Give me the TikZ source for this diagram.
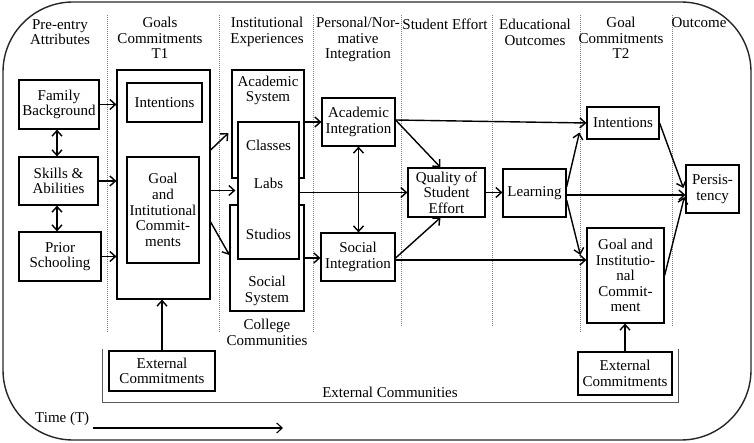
\documentclass[tikz,border=0pt]{standalone}
\usepackage{fontspec}
\setmainfont{Liberation Serif}
\usetikzlibrary{arrows.meta,calc}
\begin{document}
\begin{tikzpicture}[x=1pt,y=-1pt,
  every node/.style={font=\fontsize{15}{15.6}\selectfont, align=center, inner sep=1pt},
  box/.style={draw, line width=1.2pt, fill=white},
  arr/.style={line width=1.4pt, -{Straight Barb[length=5.5pt,width=10pt]}},
  darr/.style={line width=1.4pt, {Straight Barb[length=5.5pt,width=10pt]}-{Straight Barb[length=5.5pt,width=10pt]}},
  sep/.style={gray, line width=0.8pt, dash pattern=on 0.7pt off 1.3pt},
  hdr/.style={anchor=north, inner sep=0pt}]
\useasboundingbox (0,0) rectangle (754,443);
% outer frame
\draw[line width=1.4pt, black!85, rounded corners=70pt] (3,2) rectangle (751,440);

% column separators
\foreach \x/\yb in {107/332,219/332,313/332,401/326,492/326,580/332,672/326}
  \draw[sep] (\x,15) -- (\x,\yb);

% headers
\node[hdr] (h1) at (60,19) {Pre-entry\\Attributes};
\node[hdr] (h2) at (160,17) {Goals\\Commitments\\T1};
\node[hdr] (h3) at (267,17) {Institutional\\Experiences};
\node[hdr] (h4) at (358,17) {Personal/Nor-\\mative\\Integration};
\node[hdr] (h5) at (445,19) {Student Effort};
\node[hdr] (h6) at (535,19) {Educational\\Outcomes};
\node[hdr] (h7) at (621,17) {Goal\\Commitments\\T2};
\node[hdr] (h8) at (699,17) {Outcome};

% external communities bracket
\draw[line width=1pt, black!65] (102,349) -- (102,402) -- (678,402) -- (678,349);
\node (extcom) at (390,392) {External Communities};

% pre-entry boxes
\node[box, minimum width=80pt, minimum height=49pt] (fam) at (59,104.5) {Family\\Background};
\node[box, minimum width=79pt, minimum height=48pt] (skills) at (58.5,181) {Skills \&\\Abilities};
\node[box, minimum width=82pt, minimum height=49pt] (prior) at (60,256.5) {Prior\\Schooling};

% T1
\node[box, minimum width=93pt, minimum height=229pt] (t1) at (163.5,184.5) {};
\node[box, minimum width=75pt, minimum height=39pt] (int1) at (164.5,102.5) {Intentions};
\node[box, minimum width=72pt, minimum height=106pt, inner sep=0pt] (goal1) at (163,210) {Goal\\and\\Intitutional\\Commit-\\ments};
\node[box, minimum width=106pt, minimum height=40pt] (extL) at (162,371) {External\\Commitments};

% institutional experiences
\node[box, minimum width=72pt, minimum height=108pt,
  label={[anchor=north, inner sep=0pt, yshift=-6pt, align=center]north:Academic\\System}] (acsys) at (268,124) {};
\node[box, minimum width=74pt, minimum height=106pt,
  label={[anchor=south, inner sep=0pt, yshift=6pt, align=center]south:Social\\System}] (socsys) at (267,258) {};
\node[box, minimum width=61pt, minimum height=137pt] (cls) at (268.5,190.5) {};
\node (classes) at ([yshift=45.5pt]cls.center) {Classes};
\node (labs) at ([yshift=7.5pt]cls.center) {Labs};
\node (studios) at ([yshift=-43.5pt]cls.center) {Studios};
\node[hdr] (colcom) at (267,319) {College\\Communities};

% integration
\node[box, minimum width=73pt, minimum height=48pt] (acint) at (358.5,122) {Academic\\Integration};
\node[box, minimum width=74pt, minimum height=48pt] (soint) at (358,257) {Social\\Integration};

% effort, learning
\node[box, minimum width=77pt, minimum height=49pt] (qual) at (446.5,192.5) {Quality of\\Student\\Effort};
\node[box, minimum width=63pt, minimum height=48pt] (learn) at (534.5,193) {Learning};

% T2
\node[box, minimum width=72pt, minimum height=32pt] (int2) at (623,123) {Intentions};
\node[box, minimum width=77pt, minimum height=95pt] (goal2) at (625.5,275.5) {Goal and\\Institutio-\\nal\\Commit-\\ment};
\node[box, minimum width=94pt, minimum height=43pt] (extR) at (625,373.5) {External\\Commitments};
\node[box, minimum width=53pt, minimum height=48pt] (pers) at (712.5,189) {Persis-\\tency};

% time
\node[anchor=west, inner sep=0pt] (time) at (35,419) {Time (T)};
\coordinate (ts) at (93,428);
\coordinate (te) at (283,428);
\draw[arr, line width=1.1pt] (ts) -- (te);

% arrows pre-entry
\draw[arr] (fam.east) -- (fam.east -| t1.west);
\draw[arr] (skills.east) -- (skills.east -| t1.west);
\draw[arr] (prior.east) -- (prior.east -| t1.west);
\draw[darr] ([xshift=-2pt]fam.south) -- ([xshift=-2pt]fam.south |- skills.north);
\draw[darr] ([xshift=-1.5pt]skills.south) -- ([xshift=-1.5pt]skills.south |- prior.north);
\draw[arr] (extL.north) -- (extL.north |- t1.south);

% T1 to institutional
\draw[arr] ([yshift=34.5pt]t1.east) -- ([shift={(-3pt,-9pt)}]acsys.west);
\draw[arr, shorten >=2pt] (t1.east |- cls.west) -- (cls.west);
\draw[arr] ([yshift=-37.5pt]t1.east) -- ([yshift=3pt]socsys.west);

% institutional to integration
\draw[arr] (acint.west -| acsys.east) -- (acint.west);
\draw[arr] (socsys.east) -- (socsys.east -| soint.west);
\draw[darr] (acint.south) -- (acint.south |- soint.north);

% to quality
\draw[arr] (qual.west -| cls.east) -- (qual.west);
\draw[arr] ([yshift=2pt]acint.east) -- ([xshift=-6pt]qual.north);
\draw[arr] ([yshift=-1pt]soint.east) -- ([xshift=-6pt]qual.south);
\draw[arr] (qual.east) -- (qual.east -| learn.west);

% to T2
\draw[arr] ([yshift=2pt]acint.east) -- (int2.west);
\draw[arr] ([yshift=-3pt]soint.east) -- ([yshift=-3pt]soint.east -| goal2.west);
\draw[arr] ([yshift=6pt]learn.east) -- ([shift={(-7pt,7pt)}]int2.south west);
\draw[arr] ([yshift=-7pt]learn.east) -- ([shift={(-6pt,20.5pt)}]goal2.west);
\draw[arr] (extR.north) -- (extR.north |- goal2.south);

% to persistency
\draw[arr] ([yshift=-2pt]learn.east) -- ([yshift=-2pt]learn.east -| pers.west);
\draw[arr] (int2.east) -- ([shift={(-2pt,1pt)}]pers.west);
\draw[arr] (goal2.east) -- ([shift={(-1pt,-8pt)}]pers.west);
\end{tikzpicture}
\end{document}
